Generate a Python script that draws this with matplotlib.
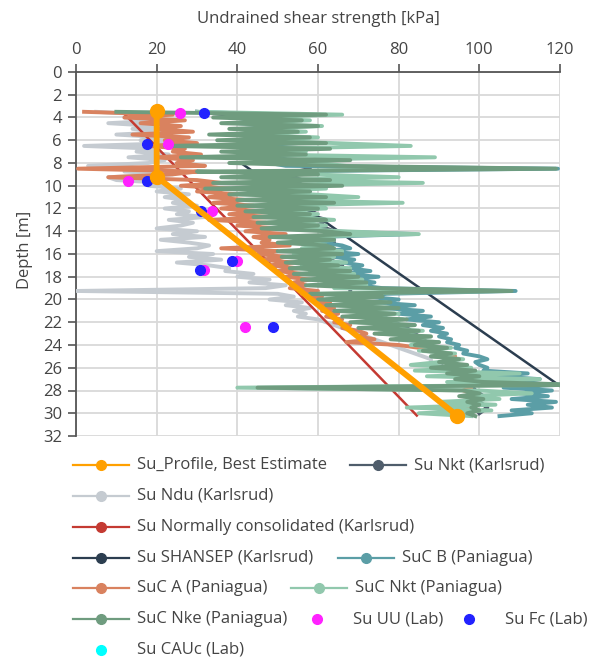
import numpy as np
import matplotlib.pyplot as plt

plt.rcParams['font.family'] = ['Open Sans', 'DejaVu Sans']

# CPT-derived profiles, read every 0.25 m from 3.5 m down to 30.25 m
cpt_depth = np.round(np.arange(3.5, 30.26, 0.25), 2)

su_ndu = [
    5, 18, 12, 22, 8, 20, 14, 24,
    10, 22, 16, 25, 2, 20, 15, 23,
    13, 22, 18, 3, 20, 12, 24, 8,
    10, 22, 18, 26, 20, 28, 22, 27,
    24, 30, 22, 28, 25, 32, 23, 29,
    26, 20, 30, 24, 32, 21, 28, 33,
    30, 20, 34, 28, 36, 25, 33, 38,
    37, 44, 40, 48, 43, 52, 47, 0,
    50, 54, 48, 56, 52, 58, 54, 57,
    55, 60, 62, 64, 66, 68, 70, 72,
    74, 76, 78, 80, 82, 84, 86, 88,
    88, 90, 91, 92, 93, 94, 95, 96,
    96, 97, 98, 97, 98, 99, 98, 99,
    97, 98, 96, 95,
]
suc_a = [
    2, 24, 12, 27, 16, 26, 20, 29,
    14, 28, 22, 30, 18, 27, 24, 31,
    20, 29, 25, 32, 0.5, 30, 24, 8,
    30, 36, 26, 38, 30, 40, 33, 42,
    34, 44, 36, 46, 38, 48, 33, 47,
    40, 50, 42, 52, 44, 48, 46, 53,
    36, 50, 45, 52, 46, 54, 48, 55,
    50, 56, 52, 58, 54, 57, 53, 60,
    56, 61, 58, 63, 60, 64, 61, 65,
    62, 66, 64, 68, 66, 70, 72, 70,
    74, 67, 80, 85, 88, 92, 94, 93,
    94, 92, 95, 93, 96, 95, 97, 96,
    97, 98, 96, 99, 97, 100, 98, 99,
    97, 98, 96, 95,
]
suc_b = [
    30, 50, 38, 48, 40, 52, 42, 50,
    38, 52, 42, 55, 40, 58, 44, 54,
    42, 56, 48, 52, 119.5, 44, 54, 46,
    52, 44, 56, 46, 54, 48, 58, 50,
    56, 50, 58, 52, 57, 54, 60, 55,
    58, 57, 62, 84, 60, 64, 61, 66,
    68, 62, 70, 64, 69, 66, 71, 68,
    73, 66, 75, 68, 74, 70, 76, 109,
    77, 72, 80, 74, 84, 76, 86, 80,
    88, 82, 90, 86, 91, 88, 92, 90,
    93, 92, 95, 94, 97, 96, 100, 102,
    99, 100, 102, 101, 112, 104, 115, 106,
    120, 106, 118, 110, 117, 108, 119, 112,
    118, 108, 113, 105,
]
suc_nkt = [
    30, 66, 40, 58, 42, 61, 44, 57,
    40, 60, 45, 64, 83, 44, 57, 46,
    89, 45, 60, 67, 93, 45, 58, 80,
    48, 86, 50, 62, 46, 58, 70, 48,
    81, 50, 62, 48, 60, 52, 64, 50,
    62, 54, 66, 85, 52, 64, 55, 62,
    56, 66, 54, 64, 58, 67, 56, 68,
    58, 69, 60, 71, 62, 72, 64, 106,
    60, 74, 62, 77, 64, 79, 66, 80,
    68, 81, 70, 84, 72, 86, 75, 88,
    80, 90, 83, 93, 85, 94, 88, 96,
    90, 83, 98, 84, 110, 87, 115, 92,
    120, 40, 100, 113, 96, 105, 90, 104,
    82, 103, 85, 98,
]
suc_nke = [
    10, 62, 34, 56, 36, 60, 38, 55,
    33, 58, 35, 62, 22, 63, 36, 57,
    26, 68, 38, 64, 119, 30, 60, 36,
    63, 34, 66, 32, 58, 38, 62, 40,
    64, 40, 60, 42, 58, 44, 62, 45,
    60, 46, 62, 68, 48, 64, 50, 62,
    64, 50, 66, 51, 63, 52, 65, 53,
    68, 54, 70, 56, 72, 57, 74, 108,
    58, 76, 60, 78, 62, 80, 64, 79,
    66, 82, 68, 84, 70, 85, 74, 88,
    78, 90, 84, 92, 86, 93, 88, 95,
    90, 97, 88, 99, 92, 100, 94, 101,
    125, 45, 96, 100, 95, 101, 97, 100,
    98, 100, 97, 99,
]

# Karlsrud Nkt, coarser reading (0.5 m)
nkt_k_depth = np.round(np.arange(3.5, 30.01, 0.5), 2)
su_nkt_k = [
    30, 46, 44, 47, 45, 50, 48, 52,
    50, 55, 58, 52, 56, 54, 58, 56,
    58, 60, 57, 62, 60, 64, 62, 64,
    62, 64, 63, 66, 65, 67, 66, 68,
    68, 70, 72, 74, 76, 79, 82, 84,
    86, 88, 90, 92, 91, 89, 95, 97,
    98, 99, 101, 100, 102, 100,
]

nc_depth = [3.5, 17.0, 30.2]
su_nc = [11.5, 48.5, 84.5]
shansep_depth = [8.0, 14.3, 27.5, 30.2]
su_shansep = [40.9, 66.3, 119.6, 130.5]

profile_depth = [3.4, 9.2, 30.2]
su_profile = [20, 20, 94.5]

lab_depth = [3.6, 6.35, 9.55, 12.2, 16.6, 17.4, 22.4]
su_uu = [25.8, 22.7, 12.8, 33.8, 39.9, 31.8, 41.8]
su_fc = [31.8, 17.7, 17.7, 30.9, 38.8, 30.8, 48.8]

C_PROFILE = '#ffa000'
C_NKT_K = '#4f5d6b'
C_NDU = '#c5cbd1'
C_NC = '#c43a32'
C_SHANSEP = '#2c3e50'
C_B = '#5b9ea6'
C_A = '#d9825f'
C_NKT = '#91c8ad'
C_NKE = '#6f9c7f'
C_UU = '#ff22ff'
C_FC = '#2222ff'
C_CAU = '#00ffff'
TXT = '#444444'

W, H = 596, 664
fig = plt.figure(figsize=(W / 100, H / 100), dpi=100)
ax = fig.add_axes([76 / W, 1 - 436 / H, 484 / W, 364 / H])

lw = 2.8
ax.plot(su_nkt_k, nkt_k_depth, color=C_NKT_K, lw=lw, zorder=2)
ax.plot(su_ndu, cpt_depth, color=C_NDU, lw=lw, zorder=3)
ax.plot(su_nc, nc_depth, color=C_NC, lw=1.8, zorder=4)
ax.plot(su_shansep, shansep_depth, color=C_SHANSEP, lw=1.8, zorder=5)
ax.plot(suc_b, cpt_depth, color=C_B, lw=lw, zorder=6)
ax.plot(suc_a, cpt_depth, color=C_A, lw=lw, zorder=7)
ax.plot(suc_nkt, cpt_depth, color=C_NKT, lw=lw, zorder=8)
ax.plot(suc_nke, cpt_depth, color=C_NKE, lw=lw, zorder=9)
ax.plot(su_uu, lab_depth, 'o', color=C_UU, ms=7, zorder=10)
ax.plot(su_fc, lab_depth, 'o', color=C_FC, ms=7, zorder=11)
ax.plot(su_profile, profile_depth, '-o', color=C_PROFILE, lw=4.2, ms=10,
        zorder=12, clip_on=False)

ax.set_xlim(0, 120)
ax.set_ylim(32, 0)
ax.set_xticks(range(0, 121, 20))
ax.set_yticks(range(0, 33, 2))
ax.xaxis.tick_top()
ax.grid(color='#d9d9d9', lw=1.3, zorder=0)
ax.set_axisbelow(True)
for s in ['right', 'bottom']:
    ax.spines[s].set_visible(False)
for s in ['left', 'top']:
    ax.spines[s].set_color('#555555')
    ax.spines[s].set_linewidth(1.3)
ax.tick_params(length=6, width=1.2, color='#555555', labelcolor=TXT,
               labelsize=12, pad=4)

fig.text(318 / W, 1 - 19 / H, 'Undrained shear strength [kPa]', ha='center',
         va='center', fontsize=12, color=TXT)
fig.text(25 / W, 1 - 250 / H, 'Depth [m]', ha='center', va='center',
         rotation=90, fontsize=12, color=TXT)

# legend drawn in pixel space to reproduce the wrapped layout
lax = fig.add_axes([0, 0, 1, 1])
lax.set_xlim(0, W)
lax.set_ylim(H, 0)
lax.axis('off')

legend_items = [
    ('Su_Profile, Best Estimate', C_PROFILE, True, 73, 465),
    ('Su Nkt (Karlsrud)', C_NKT_K, True, 350, 465),
    ('Su Ndu (Karlsrud)', C_NDU, True, 73, 496),
    ('Su Normally consolidated (Karlsrud)', C_NC, True, 73, 527),
    ('Su SHANSEP (Karlsrud)', C_SHANSEP, True, 73, 558),
    ('SuC B (Paniagua)', C_B, True, 338, 558),
    ('SuC A (Paniagua)', C_A, True, 73, 588),
    ('SuC Nkt (Paniagua)', C_NKT, True, 291, 588),
    ('SuC Nke (Paniagua)', C_NKE, True, 73, 619),
    ('Su UU (Lab)', C_UU, False, 289, 619),
    ('Su Fc (Lab)', C_FC, False, 441, 619),
    ('Su CAUc (Lab)', C_CAU, False, 73, 650),
]
for label, color, has_line, x0, y0 in legend_items:
    if has_line:
        lax.plot([x0, x0 + 56], [y0, y0], color=color, lw=1.6)
    lax.plot([x0 + 28], [y0], 'o', color=color, ms=7)
    lax.text(x0 + 64, y0, label, ha='left', va='center', fontsize=12,
             color=TXT)

fig.savefig('out.png', dpi=100)
